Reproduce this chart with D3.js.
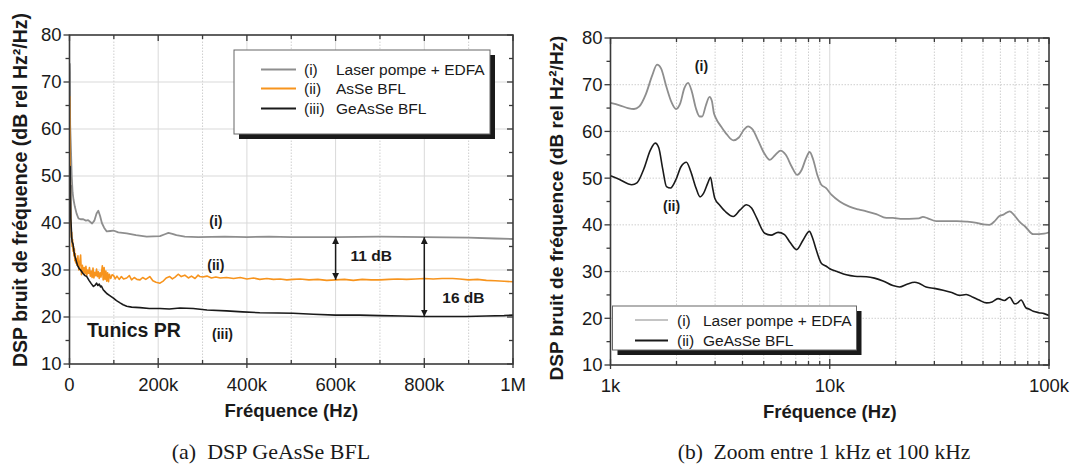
<!DOCTYPE html>
<html><head><meta charset="utf-8">
<script src="https://cdn.jsdelivr.net/npm/d3@7"></script>
<style>
html,body{margin:0;padding:0;background:#fff;}
text{font-family:"Liberation Sans",Arial,sans-serif;fill:#1a1a1a;}
</style></head>
<body><svg id="c" width="1072" height="464"></svg>
<script>
// ---------- DATA (frequency in kHz, DSP in dB rel Hz²/Hz) ----------
const seriesNamesA = ["Laser pompe + EDFA", "AsSe BFL", "GeAsSe BFL"];
const seriesTagsA = ["(i)", "(ii)", "(iii)"];
const seriesNamesB = ["Laser pompe + EDFA", "GeAsSe BFL"];
const seriesTagsB = ["(i)", "(ii)"];

const laserA = [[0.5,74],[1,72],[1.5,61],[2.5,58],[3.5,55],[5,50],[7,46.5],[9,45],[12,43.5],[16,42],[20,41],[25,40.8],[31,40.8],[37,40.5],[42,40.6],[47,40.2],[51,39.9],[56,40.5],[61,42],[65,42.6],[69,41.5],[73,40],[78,39],[84,38.2],[92,38.3],[99,38.4],[110,38],[129,37.8],[150,37.4],[174,37.1],[204,37.2],[215,37.6],[223,37.9],[232,37.7],[241,37.4],[260,37.1],[290,37.0],[350,37.1],[400,37.0],[450,37.1],[500,37.0],[600,37.0],[700,37.1],[800,37.0],[900,36.9],[960,36.7],[1000,36.6]];

const asseA = [[0.5,67],[1,60],[1.5,52],[2,45],[3,40],[4,37],[5,38],[6,35],[7,36.5],[8,34],[9,35],[10,33],[11,34.5],[12,32],[13,33.5],[14,31.5],[15,32.5],[17,31],[19,33],[21,30],[23,31.5],[25,33.2],[27,29],[29,31],[31,29.5],[33,30.5],[35,29.2],[37,30.8],[39,28.9],[41,30],[43,29.3],[45,30.5],[47,28.7],[49,29.8],[51,28.4],[53,30.4],[55,28.3],[57,29.5],[59,28.8],[61,30.2],[63,28.6],[65,29.6],[67,28.2],[69,29.4],[71,28.5],[74,30.9],[76,27.9],[78,30.5],[80,28],[82,29.8],[84,27.6],[86,29.4],[88,27.5],[90,29.1],[93,28.2],[96,29],[99,28.9],[103,28.1],[107,28.7],[112,28.0],[117,28.6],[122,28.1],[129,28.3],[135,28.8],[140,27.9],[146,28.4],[152,28.0],[159,27.9],[165,28.4],[172,28.0],[181,28.6],[188,27.7],[195,27.4],[204,27.2],[212,27.7],[218,28.3],[226,28.6],[232,28.1],[238,28.5],[245,29.1],[252,28.6],[260,28.9],[268,28.3],[275,28.7],[283,28.2],[290,28.9],[294,28.6],[300,28.5],[310,28.7],[320,28.3],[330,28.5],[340,28.3],[354,28.4],[370,28.2],[385,28.4],[400,28.1],[415,28.3],[429,28.0],[445,28.2],[460,28.0],[475,28.1],[490,27.9],[504,28.0],[520,28.1],[540,27.9],[560,28.0],[580,27.8],[600,27.9],[620,28.0],[640,27.8],[660,28.0],[680,27.9],[700,27.9],[720,28.0],[740,28.1],[760,28.0],[780,28.1],[800,28.2],[820,28.1],[840,28.2],[864,28.2],[880,28.1],[900,27.9],[920,28.0],[940,27.8],[960,27.7],[980,27.6],[1000,27.5]];

const geasseA = [[1,47],[1.5,52],[2,45],[2.5,48],[3,41],[4,39],[5,37],[6,36],[8,35.5],[10,34],[12,33],[15,32],[18,31],[22,30.3],[25,30],[30,29.3],[35,28.8],[39,28.6],[44,27.8],[49,27.1],[54,26.5],[58,26.8],[61,27.2],[64,26.7],[67,27.0],[70,26.4],[72,26.6],[76,25.8],[80,25.4],[84,25.0],[90,24.6],[99,24.0],[106,23.5],[114,23.0],[121,22.6],[129,22.3],[140,22.1],[159,22.0],[180,21.8],[204,21.8],[225,21.7],[249,21.9],[279,21.8],[310,21.5],[354,21.3],[390,21.1],[429,20.9],[470,20.85],[504,20.8],[550,20.6],[600,20.4],[654,20.4],[700,20.3],[750,20.2],[800,20.1],[850,20.1],[894,20.1],[940,20.2],[980,20.3],[1000,20.4]];

const laserB = [[1,66.1],[1.1,65.6],[1.2,65],[1.28,64.8],[1.35,65.3],[1.45,68],[1.55,72],[1.63,74.3],[1.7,73.5],[1.8,69.5],[1.9,66.2],[1.99,64.8],[2.08,66],[2.17,69.2],[2.26,70.4],[2.35,68.5],[2.45,65],[2.55,63.2],[2.62,63.2],[2.72,65.5],[2.83,67.4],[2.9,66.5],[2.96,64],[3.02,62.9],[3.2,61],[3.4,59.3],[3.63,58.1],[3.85,58.7],[4.05,60.3],[4.24,61.1],[4.45,60.4],[4.7,58.2],[5.0,55.5],[5.33,53.9],[5.6,54.8],[5.97,55.9],[6.3,55],[6.7,52.5],[7.1,50.7],[7.45,51.8],[7.8,54.3],[8.1,55.6],[8.4,54],[8.8,50.5],[9.15,48.6],[9.6,47.9],[10.2,46.4],[11.1,45.0],[12.3,43.9],[13.5,43.3],[14.7,42.9],[16.3,42.3],[18.1,41.5],[19.4,41.5],[21,41.3],[23,41.3],[25.5,41.4],[26.6,41.7],[28,41.4],[30.6,40.8],[34,40.8],[38,40.8],[41.9,40.7],[46,40.5],[50,40.1],[53.4,40.0],[56,40.6],[59.4,41.9],[62,42.2],[66.2,42.9],[69,42.2],[73.3,40.7],[78,39.6],[84.8,38.0],[90,38.0],[95,38.1],[100,38.4]];

const geasseB = [[1,50.5],[1.1,49.7],[1.2,48.8],[1.25,48.6],[1.32,49.0],[1.42,52],[1.52,56],[1.6,57.5],[1.66,56.5],[1.73,52],[1.8,48.2],[1.88,47.9],[1.98,49.5],[2.1,52.5],[2.22,53.4],[2.32,51.5],[2.45,48],[2.56,46.0],[2.66,46.8],[2.78,49],[2.86,50.2],[2.92,48],[2.99,45.7],[3.15,44.2],[3.35,42.8],[3.63,41.8],[3.9,43.2],[4.17,44.3],[4.4,43.6],[4.64,41.5],[5.05,38.2],[5.4,37.8],[5.81,38.4],[6.22,37.9],[6.6,36.2],[7.06,34.7],[7.55,36.7],[8.07,38.6],[8.35,37.2],[8.67,34.7],[9.15,31.8],[9.6,31.2],[10,30.6],[10.8,30.0],[11.9,29.3],[13,29.0],[14.7,28.9],[16,28.6],[17.5,28.0],[19.4,27.0],[20.8,26.7],[22.5,27.3],[24.4,27.7],[25.5,27.5],[27.5,26.7],[30,26.4],[32.9,26.0],[36,25.5],[39.1,24.9],[41.9,25.1],[45,24.5],[48,23.9],[51.9,23.3],[55,23.5],[58.5,24.2],[62.6,23.8],[66.2,24.5],[69.8,23.1],[72,23.3],[74.6,23.9],[78.6,22.2],[81,22.0],[84.8,21.5],[90,21.2],[95,21.0],[100,20.6]];

const yTicks = [10,20,30,40,50,60,70,80];
const xTicksA = [0,200,400,600,800,1000];
const xTickLabelsA = ["0","200k","400k","600k","800k","1M"];
const xTicksB = [1,10,100];
const xTickLabelsB = ["1k","10k","100k"];
const gapArrows = [[600,37.0,27.9,"11 dB"],[800,37.0,20.1,"16 dB"]];

// ---------- DRAW ----------
const svg = d3.select("#c");
svg.append("rect").attr("width",1072).attr("height",464).attr("fill","#fff");
const C = {laser:"#8e8e8e", asse:"#f7941d", geasse:"#1a1a1a", axis:"#3a3a3a", grid:"#d9d9d9"};

const defs = svg.append("defs");
defs.append("marker").attr("id","ah").attr("viewBox","0 0 10 10").attr("refX",10).attr("refY",5)
  .attr("markerWidth",7).attr("markerHeight",7).attr("orient","auto-start-reverse").attr("markerUnits","userSpaceOnUse")
  .append("path").attr("d","M0,0 L10,5 L0,10 Z").attr("fill","#1a1a1a");

function panel(id, x, y, opts){
  const [x0,x1] = x.range(), [y0,y1] = y.range();
  const g = svg.append("g");
  defs.append("clipPath").attr("id","clip"+id).append("rect")
    .attr("x",x0).attr("y",y1).attr("width",x1-x0).attr("height",y0-y1);
  const grid = g.append("g");
  opts.vgrid.forEach(([v,dash])=>{
    grid.append("line").attr("x1",x(v)).attr("x2",x(v)).attr("y1",y0).attr("y2",y1)
      .attr("stroke",dash?"#cfcfcf":C.grid).attr("stroke-width",1).attr("stroke-dasharray",dash?"1.5,1.5":null);
  });
  opts.hgrid.forEach(([v,dash])=>{
    grid.append("line").attr("x1",x0).attr("x2",x1).attr("y1",y(v)).attr("y2",y(v))
      .attr("stroke",dash?"#cfcfcf":C.grid).attr("stroke-width",1).attr("stroke-dasharray",dash?"1.5,1.5":null);
  });
  return g;
}

function axes(g, x, y, xt, xtl, xminor, ylabelX, titleY, opts){
  const [x0,x1] = x.range(), [y0,y1] = y.range();
  const a = g.append("g").attr("stroke",C.axis).attr("stroke-width",1.3);
  a.append("rect").attr("x",x0).attr("y",y1).attr("width",x1-x0).attr("height",y0-y1).attr("fill","none").attr("stroke-width",1.6);
  for(let v=10; v<=80; v+=5){
    const maj = v%10===0;
    a.append("line").attr("x1",x0-(maj?6:4)).attr("x2",x0).attr("y1",y(v)).attr("y2",y(v));
    a.append("line").attr("x1",x1).attr("x2",x1-(maj?6:4)).attr("y1",y(v)).attr("y2",y(v));
  }
  xt.forEach(v=>{
    a.append("line").attr("x1",x(v)).attr("x2",x(v)).attr("y1",y0+4).attr("y2",y0-6);
    a.append("line").attr("x1",x(v)).attr("x2",x(v)).attr("y1",y1).attr("y2",y1+6);
  });
  xminor.forEach(v=>{
    a.append("line").attr("x1",x(v)).attr("x2",x(v)).attr("y1",y0).attr("y2",y0-4);
    a.append("line").attr("x1",x(v)).attr("x2",x(v)).attr("y1",y1).attr("y2",y1+4);
  });
  const t = g.append("g").attr("font-size",18.5);
  yTicks.forEach(v=>{
    t.append("text").attr("x",x0-8).attr("y",y(v)).attr("dy","0.35em").attr("text-anchor","end").text(v);
  });
  xt.forEach((v,i)=>{
    t.append("text").attr("x",x(v)).attr("y",y0+27).attr("text-anchor","middle").text(xtl[i]);
  });
  g.append("text").attr("x",(x0+x1)/2).attr("y",y0+53).attr("text-anchor","middle")
    .attr("font-size",18.5).attr("font-weight","bold").text("Fréquence (Hz)");
  g.append("text").attr("transform",`translate(${ylabelX},${titleY}) rotate(-90)`).attr("text-anchor","middle")
    .attr("font-size",opts.tfs).attr("font-weight","bold").text("DSP bruit de fréquence (dB rel Hz²/Hz)");
}

function drawLine(g, id, data, x, y, color, curve, w){
  g.append("path").datum(data).attr("clip-path",`url(#clip${id})`)
    .attr("fill","none").attr("stroke",color).attr("stroke-width",w).attr("stroke-linejoin","round")
    .attr("d", d3.line().x(d=>x(d[0])).y(d=>y(d[1])).curve(curve));
}

function legend(g, bx, by, bw, bh, rows, lineX0, lineX1, tagX, nameX, fs){
  g.append("rect").attr("x",bx+5).attr("y",by+5).attr("width",bw).attr("height",bh).attr("fill","#1a1a1a");
  g.append("rect").attr("x",bx).attr("y",by).attr("width",bw).attr("height",bh).attr("fill","#fff").attr("stroke","#666").attr("stroke-width",1);
  rows.forEach(r=>{
    g.append("line").attr("x1",lineX0).attr("x2",lineX1).attr("y1",r.y).attr("y2",r.y).attr("stroke",r.color).attr("stroke-width",r.w);
    g.append("text").attr("x",tagX).attr("y",r.y).attr("dy","0.36em").attr("font-size",fs).text(r.tag);
    g.append("text").attr("x",nameX).attr("y",r.y).attr("dy","0.36em").attr("font-size",fs).text(r.name);
  });
}

// ---------- Panel A ----------
const xA = d3.scaleLinear().domain([0,1000]).range([69.5,513]);
const yA = d3.scaleLinear().domain([10,80]).range([364,35]);
const minorA = d3.range(100,1000,200);
const gA = panel("A", xA, yA, {
  vgrid: [...minorA.map(v=>[v,true]), ...[200,400,600,800].map(v=>[v,false])],
  hgrid: [20,30,40,50,60,70].map(v=>[v,false])
});
drawLine(gA,"A",laserA,xA,yA,C.laser,d3.curveLinear,1.8);
drawLine(gA,"A",asseA,xA,yA,C.asse,d3.curveLinear,1.6);
drawLine(gA,"A",geasseA,xA,yA,C.geasse,d3.curveLinear,1.6);
axes(gA, xA, yA, xTicksA, xTickLabelsA, minorA, 27, 190, {tfs:19.5});
gapArrows.forEach(([f,a,b,lab],i)=>{
  gA.append("line").attr("x1",xA(f)).attr("x2",xA(f)).attr("y1",yA(a)).attr("y2",yA(b))
    .attr("stroke","#1a1a1a").attr("stroke-width",1.5)
    .attr("marker-start","url(#ah)").attr("marker-end","url(#ah)");
});
gA.append("text").attr("x",xA(600)+15).attr("y",yA(33)).attr("dy","0.35em").attr("font-size",15.5).attr("font-weight","bold").text(gapArrows[0][3]);
gA.append("text").attr("x",xA(800)+18).attr("y",yA(24.1)).attr("dy","0.35em").attr("font-size",15.5).attr("font-weight","bold").text(gapArrows[1][3]);
const tagA = gA.append("g").attr("font-size",14).attr("font-weight","bold").attr("text-anchor","middle");
tagA.append("text").attr("x",xA(330)).attr("y",yA(40.3)).attr("dy","0.35em").text(seriesTagsA[0]);
tagA.append("text").attr("x",xA(330)).attr("y",yA(31.1)).attr("dy","0.35em").text(seriesTagsA[1]);
tagA.append("text").attr("x",xA(345)).attr("y",yA(16.3)).attr("dy","0.35em").text(seriesTagsA[2]);
gA.append("text").attr("x",87).attr("y",yA(15.8)).attr("font-size",19.5).attr("font-weight","bold").text("Tunics PR");
legend(gA, 234, 50, 256, 84, [
  {y:69.5,color:C.laser,w:1.8,tag:seriesTagsA[0],name:seriesNamesA[0]},
  {y:88.5,color:C.asse,w:1.8,tag:seriesTagsA[1],name:seriesNamesA[1]},
  {y:108.5,color:C.geasse,w:1.8,tag:seriesTagsA[2],name:seriesNamesA[2]}
], 261, 296, 304, 336, 15.5);
svg.append("text").attr("x",271).attr("y",459).attr("text-anchor","middle")
  .style("font-family","'Liberation Serif','Times New Roman',serif").attr("font-size",22).text("(a)\u00a0\u00a0DSP GeAsSe BFL");

// ---------- Panel B ----------
const xB = d3.scaleLog().domain([1,100]).range([610.5,1049]);
const yB = d3.scaleLinear().domain([10,80]).range([365,38]);
const minorB = [2,3,4,5,6,7,8,9,20,30,40,50,60,70,80,90];
const gB = panel("B", xB, yB, {
  vgrid: [...minorB.map(v=>[v,true]), [10,false]],
  hgrid: [20,30,40,50,60,70].map(v=>[v,true])
});
drawLine(gB,"B",laserB,xB,yB,C.laser,d3.curveMonotoneX,1.8);
drawLine(gB,"B",geasseB,xB,yB,C.geasse,d3.curveMonotoneX,1.6);
axes(gB, xB, yB, xTicksB, xTickLabelsB, minorB, 563, 208, {tfs:19});
const tagB = gB.append("g").attr("font-size",14).attr("font-weight","bold").attr("text-anchor","middle");
tagB.append("text").attr("x",xB(2.6)).attr("y",yB(74)).attr("dy","0.35em").text(seriesTagsB[0]);
tagB.append("text").attr("x",xB(1.9)).attr("y",yB(44)).attr("dy","0.35em").text(seriesTagsB[1]);
legend(gB, 612.5, 306, 244, 44, [
  {y:320,color:"#c4c4c4",w:1.8,tag:seriesTagsB[0],name:seriesNamesB[0]},
  {y:340.5,color:C.geasse,w:1.8,tag:seriesTagsB[1],name:seriesNamesB[1]}
], 635, 668, 677, 703, 15.5);
svg.append("text").attr("x",824).attr("y",459).attr("text-anchor","middle")
  .style("font-family","'Liberation Serif','Times New Roman',serif").attr("font-size",21.5).text("(b)\u00a0\u00a0Zoom entre 1 kHz et 100 kHz");
</script></body></html>
